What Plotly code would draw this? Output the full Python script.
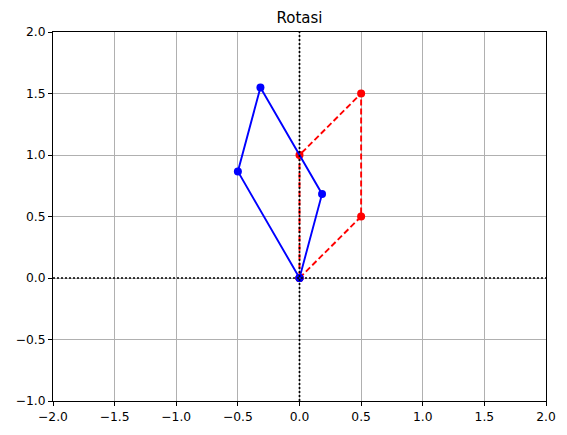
import plotly.graph_objects as go

# Original polygon (red, dashed)
orig_x = [0.0, 0.5, 0.5, 0.0, 0.0]
orig_y = [0.0, 0.5, 1.5, 1.0, 0.0]
# Rotated polygon (blue)
rot_x = [0.0, 0.183, -0.317, -0.5, 0.0]
rot_y = [0.0, 0.683, 1.549, 0.866, 0.0]

x_range = [-2.0, 2.0]
y_range = [-1.0, 2.0]
x_ticks = [-2.0, -1.5, -1.0, -0.5, 0.0, 0.5, 1.0, 1.5, 2.0]
y_ticks = [-1.0, -0.5, 0.0, 0.5, 1.0, 1.5, 2.0]
title = "Rotasi"

fig = go.Figure()
fig.add_trace(go.Scatter(x=orig_x, y=orig_y, mode="lines+markers",
                         line=dict(color="#ff0000", width=1.9, dash="6px,3px"),
                         marker=dict(color="#ff0000", size=8), showlegend=False))
fig.add_trace(go.Scatter(x=rot_x, y=rot_y, mode="lines+markers",
                         line=dict(color="#0000ff", width=1.9),
                         marker=dict(color="#0000ff", size=8), showlegend=False))
fig.add_trace(go.Scatter(x=x_range, y=[0, 0], mode="lines",
                         line=dict(color="black", width=1.7, dash="2px,2px"),
                         showlegend=False, hoverinfo="skip"))
fig.add_trace(go.Scatter(x=[0, 0], y=y_range, mode="lines",
                         line=dict(color="black", width=1.7, dash="2px,2px"),
                         showlegend=False, hoverinfo="skip"))

axis_common = dict(showgrid=True, gridcolor="#b0b0b0", gridwidth=1,
                   zeroline=False, showline=True, linecolor="black", linewidth=1,
                   mirror=True, ticks="outside", ticklen=4, tickwidth=1,
                   tickcolor="black", tickfont=dict(size=12.3, color="black"))
fig.update_xaxes(range=x_range, tickvals=x_ticks,
                 ticktext=[f"{v:.1f}".replace("-", "\u2212") for v in x_ticks],
                 **axis_common)
fig.update_yaxes(range=y_range, tickvals=y_ticks,
                 ticktext=[f"{v:.1f}".replace("-", "\u2212") for v in y_ticks],
                 **axis_common)

fig.update_layout(
    width=567, height=435,
    margin=dict(l=53, r=21, t=32, b=34),
    paper_bgcolor="white", plot_bgcolor="white",
    font=dict(family="DejaVu Sans", color="black"),
    title=dict(text=title, x=0.5, xanchor="center", xref="paper",
               y=1 - 18 / 435, yanchor="middle", font=dict(size=15)),
)
fig.write_html("out.html", config={"displayModeBar": False},
               post_script="document.body.style.margin='0';")
